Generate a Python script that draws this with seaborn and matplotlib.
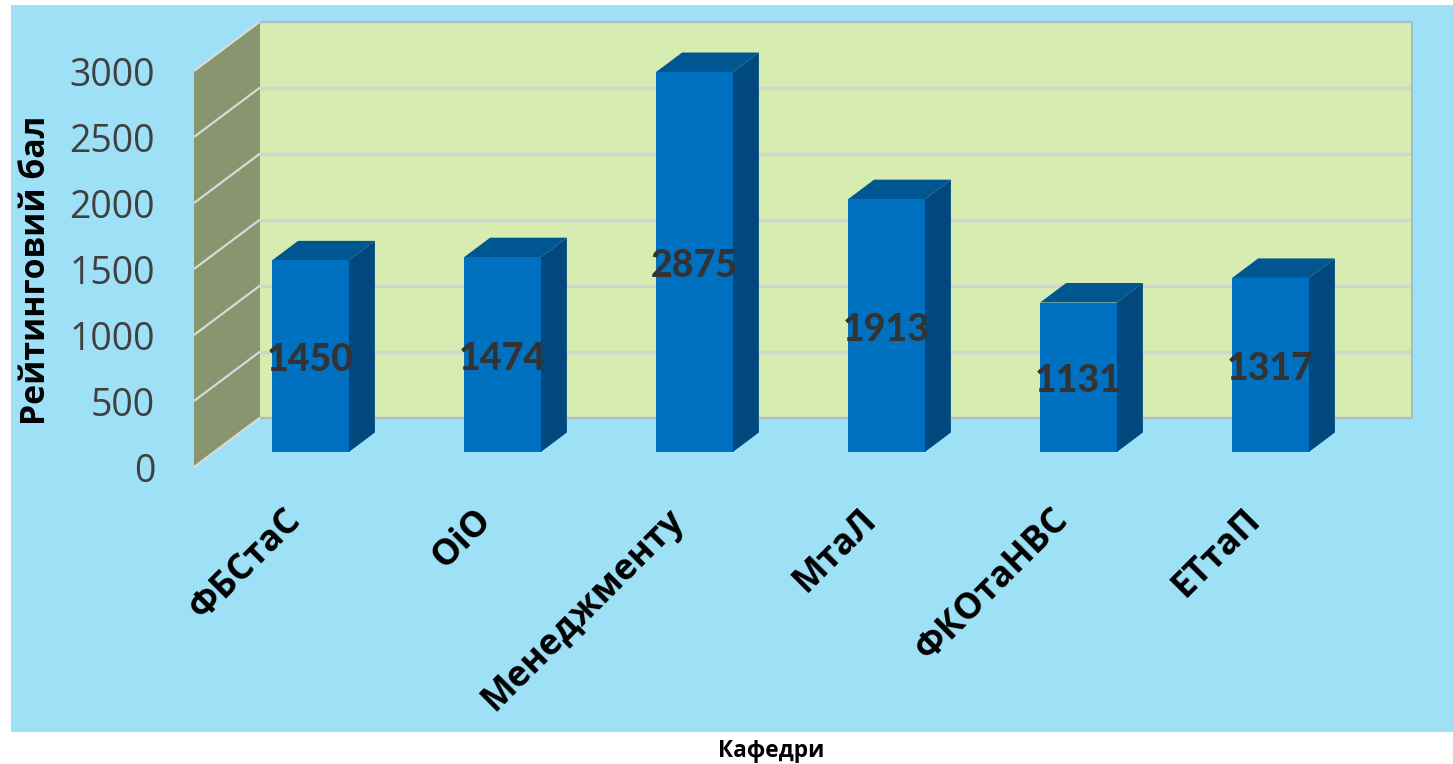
import matplotlib
matplotlib.use("Agg")
import matplotlib.pyplot as plt
from matplotlib.patches import Polygon, Rectangle
from matplotlib.transforms import Affine2D
import pandas as pd
import seaborn as sns

departments = ["ФБСтаС", "ОіО", "Менеджменту", "МтаЛ", "ФКОтаНВС", "ЕТтаП"]
scores = [1450, 1474, 2875, 1913, 1131, 1317]
y_ticks = [0, 500, 1000, 1500, 2000, 2500, 3000]
y_title = "Рейтинговий бал"
x_title = "Кафедри"

W, H = 1453, 764
PANEL = "#9EE0F6"
BACK = "#D7ECB1"
SIDE = "#88956F"
GRID = "#D2D2D2"
FRONT = "#0070C0"
BAR_SIDE = "#00487E"
BAR_TOP = "#005690"

sns.set_theme(style="white")
plt.rcParams["font.family"] = ["Open Sans", "DejaVu Sans"]

fig = plt.figure(figsize=(W / 100, H / 100), dpi=100, facecolor="white")
fig.add_artist(Rectangle((11 / W, 1 - 732 / H), (W - 11) / W, (732 - 5) / H,
                         transform=fig.transFigure, fc=PANEL, ec="none", zorder=-5))


def px_axes(left, right, top, bottom, **kw):
    return fig.add_axes([left / W, 1 - bottom / H, (right - left) / W, (bottom - top) / H], **kw)


PX_PER_CAT = 192.0
PX_PER_VAL = 396.5 / 3000

# Front plane of the chart's left wall: carries value ticks, wall and grid
wall = px_axes(194, 194 + 1152, 71, 467)
wall.patch.set_alpha(0)
wall.set_xlim(0, 1152 / PX_PER_CAT)
wall.set_ylim(0, 3000)
sns.despine(ax=wall, left=True, bottom=True)
wall.set_xticks([])
wall.set_yticks(y_ticks)
wall.tick_params(axis="y", length=0, pad=28, labelsize=27, labelcolor="#404040")
wall.set_ylabel(y_title, fontsize=24.3, fontweight="bold", color="black", va="center")
wall.yaxis.set_label_coords(36 / W, 1 - 270 / H, transform=fig.transFigure)

dx = 66 / PX_PER_CAT
dy = 49.5 / PX_PER_VAL
xr = 1152 / PX_PER_CAT
wall.add_patch(Polygon([(dx, dy), (dx + xr, dy), (dx + xr, 3000 + dy), (dx, 3000 + dy)],
                       fc=BACK, ec="none", clip_on=False, zorder=1))
wall.add_patch(Polygon([(0, 0), (dx, dy), (dx, 3000 + dy), (0, 3000)],
                       fc=SIDE, ec="none", clip_on=False, zorder=1))
for v in y_ticks:
    wall.plot([0, dx], [v, v + dy], color="#D9D9D9", lw=1.6, clip_on=False, zorder=2,
              solid_capstyle="butt")
    wall.plot([dx, dx + xr], [v + dy, v + dy], color="#A9BBC6" if v in (0, 3000) else GRID,
              lw=1.6 if v in (0, 3000) else 2.4, clip_on=False, zorder=2, solid_capstyle="butt")
wall.plot([dx + xr, dx + xr], [dy, 3000 + dy], color="#9DBBC4", lw=1.3, clip_on=False, zorder=2)

# Front plane of the bars
ax = px_axes(214.5, 214.5 + 1152, 452 - 396.5, 452, zorder=3)
ax.patch.set_alpha(0)
df = pd.DataFrame({"department": departments, "score": scores})
sns.barplot(data=df, x="department", y="score", order=departments, color=FRONT,
            saturation=1, width=0.4, ax=ax, zorder=5, edgecolor="none", linewidth=0)
ax.set_xlim(-0.5, 5.5)
ax.set_ylim(0, 3000)
sns.despine(ax=ax, left=True, bottom=True)
ax.set_yticks([])
ax.set_ylabel("")
ax.tick_params(axis="x", length=0, pad=36)
ax.set_xticks(range(len(departments)))
ax.set_xticklabels(departments, rotation=45, ha="right", rotation_mode="anchor",
                   fontsize=25.8, fontweight="bold", color="black")
shift = Affine2D().translate(-28, 0)
for lab in ax.get_xticklabels():
    lab.set_transform(lab.get_transform() + shift)
ax.set_xlabel(x_title, fontsize=16.3, fontweight="bold", color="black")
ax.xaxis.set_label_coords(771 / W, 1 - 751 / H, transform=fig.transFigure)
ax.xaxis.label.set_va("center")

bx = 26 / PX_PER_CAT
by = 19.5 / PX_PER_VAL
container = ax.containers[0]
for bar in container:
    x0, x1, v = bar.get_x(), bar.get_x() + bar.get_width(), bar.get_height()
    ax.add_patch(Polygon([(x1, 0), (x1, v), (x1 + bx, v + by), (x1 + bx, by)],
                         fc=BAR_SIDE, ec="none", clip_on=False, zorder=4))
    ax.add_patch(Polygon([(x0, v), (x1, v), (x1 + bx, v + by), (x0 + bx, v + by)],
                         fc=BAR_TOP, ec="none", clip_on=False, zorder=4))
ax.bar_label(container, label_type="center", fontsize=27, fontweight=900,
             color="#333333", family=["Lato", "Open Sans"], zorder=8, padding=-3)

fig.savefig("out.png", dpi=100, facecolor="white")
